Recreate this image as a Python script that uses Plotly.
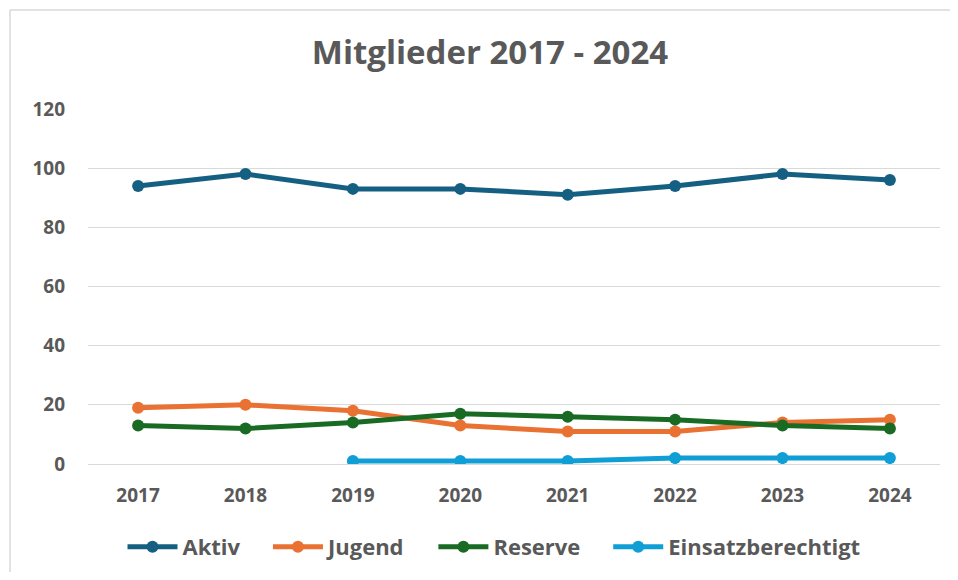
import plotly.graph_objects as go

years = ["2017", "2018", "2019", "2020", "2021", "2022", "2023", "2024"]
aktiv = [94, 98, 93, 93, 91, 94, 98, 96]
jugend = [19, 20, 18, 13, 11, 11, 14, 15]
reserve = [13, 12, 14, 17, 16, 15, 13, 12]
einsatz = [None, None, 1, 1, 1, 2, 2, 2]
y_ticks = [0, 20, 40, 60, 80, 100, 120]

series = [
    ("Aktiv", aktiv, "#156082"),
    ("Jugend", jugend, "#E97132"),
    ("Reserve", reserve, "#196B24"),
    ("Einsatzberechtigt", einsatz, "#0F9ED5"),
]

fig = go.Figure()
for i, (name, vals, col) in enumerate(series):
    pad = "" if i == len(series) - 1 else "&nbsp;" * 4
    fig.add_trace(go.Scatter(
        x=years, y=vals, name=name + pad, mode="lines+markers",
        line=dict(color=col, width=5),
        marker=dict(color=col, size=12),
        connectgaps=False,
    ))

# page body has an 8px margin; figure coords = screen coords - 8
OFF = 8
PL, PR, PT, PB = 88 - OFF, 940 - OFF, 109 - OFF, 464 - OFF
W, H = 958 - OFF, 580 - 2 * OFF
PW, PH = PR - PL, PB - PT

txt = "#595959"
fnt = "Open Sans"
fig.update_layout(
    width=W, height=H,
    margin=dict(l=PL, r=W - PR, t=PT, b=H - PB, autoexpand=False),
    paper_bgcolor="white", plot_bgcolor="white",
    title=dict(text="<b>Mitglieder 2017 - 2024</b>", x=(490 - OFF) / W,
               xanchor="center", y=1 - (52 - OFF) / H, yanchor="middle",
               font=dict(family=fnt, size=33, color=txt)),
    xaxis=dict(type="category", showgrid=False, zeroline=False,
               showline=False, ticks="", ticklabelstandoff=18,
               tickfont=dict(family=fnt, size=19, color=txt, weight="bold")),
    yaxis=dict(range=[0, 120], tickvals=y_ticks, showgrid=True,
               gridcolor="#d9d9d9", gridwidth=1.3, zeroline=True,
               zerolinecolor="#d9d9d9", zerolinewidth=1.3, showline=False,
               ticks="", ticklabelstandoff=22,
               tickfont=dict(family=fnt, size=19, color=txt, weight="bold")),
    legend=dict(orientation="h", x=(494 - 88) / 852, xanchor="center",
                y=(464 - 547) / 355, yanchor="middle",
                font=dict(family=fnt, size=22, color=txt, weight="bold"),
                itemwidth=50, tracegroupgap=0),
    showlegend=True,
)
bx = (10 - 88) / 852
by = (464 - 10) / 355
fig.add_shape(type="line", xref="paper", yref="paper",
              x0=bx, x1=(958 - 88) / 852, y0=by, y1=by,
              line=dict(color="#d9d9d9", width=1.5))
fig.add_shape(type="line", xref="paper", yref="paper",
              x0=bx, x1=bx, y0=by, y1=(464 - 580) / 355,
              line=dict(color="#d9d9d9", width=1.5))

fig.write_html("out.html")
